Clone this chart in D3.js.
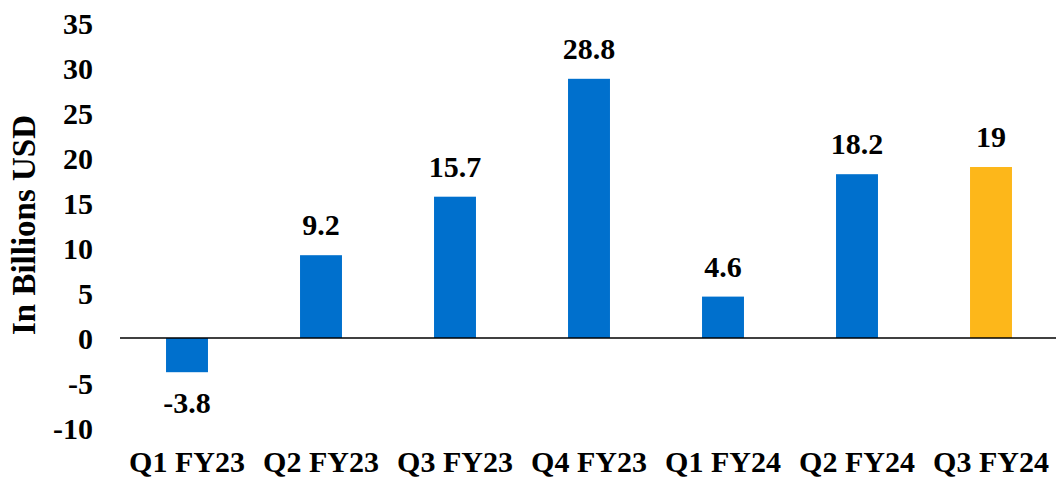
<!DOCTYPE html>
<html>
<head>
<meta charset="utf-8">
<script src="https://cdn.jsdelivr.net/npm/d3@7"></script>
<style>
  html, body { margin: 0; padding: 0; background: #fff; }
  svg { display: block; }
  text { font-family: "Liberation Serif", "Times New Roman", serif; font-weight: bold; fill: #000; }
</style>
</head>
<body>
<svg id="chart" width="1056" height="480"></svg>
<script>
// Quarterly values, in billions of USD
const quarters = ["Q1 FY23", "Q2 FY23", "Q3 FY23", "Q4 FY23", "Q1 FY24", "Q2 FY24", "Q3 FY24"];
const values = [-3.8, 9.2, 15.7, 28.8, 4.6, 18.2, 19];
const highlighted = ["Q3 FY24"];
const yTicks = [-10, -5, 0, 5, 10, 15, 20, 25, 30, 35];
const yTitle = "In Billions USD";

const svg = d3.select("#chart");
const width = 1056, height = 480;

const x = d3.scaleBand()
  .domain(quarters)
  .range([120, 1058])
  .paddingInner(0.687)
  .paddingOuter(0.3435);

const y = d3.scaleLinear()
  .domain([-10, 35])
  .range([428, 23]);

// Y axis: tick labels only, plain hyphen for negatives
const yAxis = d3.axisLeft(y).tickValues(yTicks).tickSize(0).tickPadding(0).tickFormat(d => String(d));
const gy = svg.append("g").attr("transform", "translate(93,0)").call(yAxis);
gy.select(".domain").remove();
gy.selectAll("text")
  .attr("font-family", null)
  .style("font-size", "30px")
  .attr("dy", "0.34em");

// Bars
svg.append("g").selectAll("rect")
  .data(quarters)
  .join("rect")
  .attr("x", d => x(d))
  .attr("width", x.bandwidth())
  .attr("y", (d, i) => y(Math.max(0, values[i])))
  .attr("height", (d, i) => Math.abs(y(values[i]) - y(0)))
  .attr("fill", d => highlighted.includes(d) ? "#FDB71A" : "#0070CD");

// Zero line
svg.append("line")
  .attr("x1", 120).attr("x2", width)
  .attr("y1", y(0)).attr("y2", y(0))
  .attr("stroke", "#000").attr("stroke-width", 1.5);

// Value labels
svg.append("g").selectAll("text")
  .data(quarters)
  .join("text")
  .attr("x", d => x(d) + x.bandwidth() / 2)
  .attr("y", (d, i) => values[i] >= 0 ? y(values[i]) - 20 : y(values[i]) + 41)
  .attr("text-anchor", "middle")
  .style("font-size", "30px")
  .text((d, i) => String(values[i]));

// Category labels
const xAxis = d3.axisBottom(x).tickSize(0).tickPadding(0);
const gx = svg.append("g").attr("transform", "translate(0,472)").call(xAxis);
gx.select(".domain").remove();
gx.selectAll("text")
  .attr("font-family", null)
  .attr("dy", 0)
  .attr("y", 0)
  .style("font-size", "30px");

// Y axis title
svg.append("text")
  .attr("transform", "translate(35,225) rotate(-90)")
  .attr("text-anchor", "middle")
  .style("font-size", "33px")
  .text(yTitle);
</script>
</body>
</html>
